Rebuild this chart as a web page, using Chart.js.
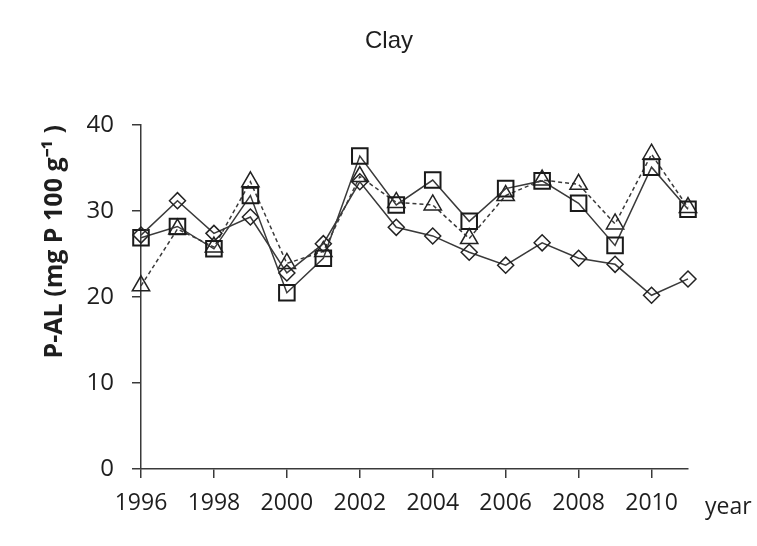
<!DOCTYPE html>
<html>
<head>
<meta charset="utf-8">
<script src="https://cdn.jsdelivr.net/npm/chart.js@4/dist/chart.umd.min.js"></script>
<style>
  body { margin: 0; background: #fff; }
  canvas { display: block; }
</style>
</head>
<body>
<canvas id="chart" width="757" height="546"></canvas>
<script>
// years on the x axis
const years = [1996, 1997, 1998, 1999, 2000, 2001, 2002, 2003, 2004, 2005, 2006, 2007, 2008, 2009, 2010, 2011];

// P-AL values (mg P 100 g-1)
const diamondSeries = [27.2, 31.2, 27.4, 29.3, 22.8, 26.2, 33.4, 28.1, 27.1, 25.2, 23.7, 26.3, 24.5, 23.8, 20.2, 22.1];
const squareSeries = [26.9, 28.2, 25.6, 31.8, 20.5, 24.5, 36.4, 30.7, 33.6, 28.8, 32.6, 33.5, 30.9, 26.0, 35.1, 30.2];
const triangleSeries = [21.3, 27.9, 25.8, 33.4, 23.9, 25.3, 34.0, 31.0, 30.7, 26.8, 31.8, 33.6, 33.1, 28.5, 36.6, 30.4];

const yTicks = [0, 10, 20, 30, 40];

const lineColor = "#3a3a3a";
const textColor = "#1e1e1e";

// extra text that sits outside the axes: title and the "year" label
const extraText = {
  id: "extraText",
  afterDraw(chart) {
    const ctx = chart.ctx;
    const area = chart.chartArea;
    ctx.save();
    ctx.fillStyle = textColor;
    ctx.textBaseline = "alphabetic";

    ctx.font = "24px 'Liberation Sans', Arial, sans-serif";
    ctx.textAlign = "center";
    ctx.fillText("Clay", 389, 48);

    ctx.font = "23px 'Open Sans', sans-serif";
    ctx.textAlign = "left";
    ctx.fillText("year", area.right + 17, 514);
    ctx.restore();
  },
};

const ctx = document.getElementById("chart").getContext("2d");
new Chart(ctx, {
  type: "line",
  data: {
    labels: years,
    datasets: [
      {
        label: "diamond",
        data: diamondSeries,
        borderColor: lineColor,
        borderWidth: 1.5,
        pointStyle: "rectRot",
        pointRadius: 8,
        pointBorderColor: "#222",
        pointBackgroundColor: "rgba(0,0,0,0)",
        pointBorderWidth: 1.5,
        tension: 0,
        clip: false,
      },
      {
        label: "square",
        data: squareSeries,
        borderColor: lineColor,
        borderWidth: 1.5,
        pointStyle: "rect",
        pointRadius: 11,
        pointBorderColor: "#1a1a1a",
        pointBackgroundColor: "rgba(0,0,0,0)",
        pointBorderWidth: 2,
        tension: 0,
        clip: false,
      },
      {
        label: "triangle",
        data: triangleSeries,
        borderColor: lineColor,
        borderWidth: 1.5,
        borderDash: [4, 3],
        pointStyle: "triangle",
        pointRadius: 10,
        pointBorderColor: "#222",
        pointBackgroundColor: "rgba(0,0,0,0)",
        pointBorderWidth: 1.5,
        tension: 0,
        clip: false,
      },
    ],
  },
  options: {
    responsive: false,
    animation: false,
    devicePixelRatio: 1,
    layout: {
      padding: { top: 125, right: 69, bottom: 0, left: 0 },
    },
    plugins: {
      legend: { display: false },
      tooltip: { enabled: false },
      title: { display: false },
    },
    scales: {
      x: {
        type: "linear",
        min: 1996,
        max: 2011,
        afterFit: (scale) => {
          scale.height = 77;
        },
        border: { display: true, color: lineColor, width: 1.5 },
        grid: {
          drawOnChartArea: false,
          drawTicks: true,
          tickLength: 9,
          color: lineColor,
          lineWidth: 1.5,
        },
        ticks: {
          stepSize: 2,
          includeBounds: false,
          maxRotation: 0,
          autoSkip: false,
          padding: 12,
          color: textColor,
          font: { family: "'Open Sans', sans-serif", size: 23 },
          callback: (value) => String(value),
        },
      },
      y: {
        min: 0,
        max: 40,
        afterFit: (scale) => {
          scale.width = 141;
        },
        afterBuildTicks: (scale) => {
          scale.ticks = yTicks.map((v) => ({ value: v }));
        },
        border: { display: true, color: lineColor, width: 1.5 },
        grid: {
          drawOnChartArea: false,
          drawTicks: true,
          tickLength: 9,
          color: lineColor,
          lineWidth: 1.5,
        },
        ticks: {
          padding: 18,
          color: textColor,
          font: { family: "'Open Sans', sans-serif", size: 24 },
        },
        title: {
          display: true,
          text: "P-AL (mg P 100 g\u207B\u00B9 )",
          align: "end",
          color: textColor,
          padding: { top: 40, bottom: 0 },
          font: { family: "'Open Sans', sans-serif", size: 25, weight: "bold" },
        },
      },
    },
  },
  plugins: [extraText],
});
</script>
</body>
</html>
